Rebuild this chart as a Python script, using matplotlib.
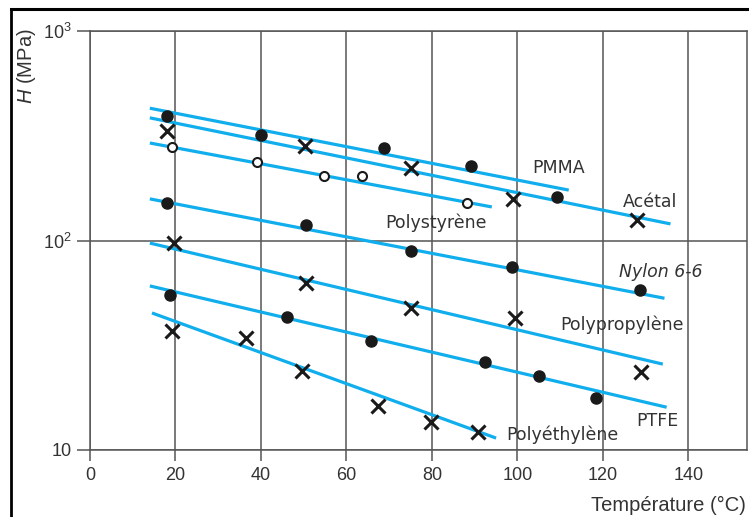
import matplotlib
matplotlib.use('Agg')
import matplotlib.pyplot as plt
from matplotlib.lines import Line2D
from matplotlib.ticker import NullLocator

plt.rcParams['font.family'] = ['Liberation Sans', 'DejaVu Sans']
plt.rcParams['mathtext.fontset'] = 'custom'
plt.rcParams['mathtext.rm'] = 'Liberation Sans'
plt.rcParams['mathtext.it'] = 'Liberation Sans:italic'

# measured points (temperature in C, hardness in MPa)
pmma_T = [18.0, 40.1, 68.8, 89.1, 109.2]
pmma_H = [393, 319, 276, 227, 161]
acetal_T = [18.0, 50.4, 75.1, 98.9, 127.9]
acetal_H = [333, 282, 222, 158, 125]
ps_T = [19.1, 39.0, 54.8, 63.7, 88.2]
ps_H = [279, 237, 203, 203, 151]
nylon_T = [18.0, 50.6, 75.1, 98.7, 128.6]
nylon_H = [151, 118.6, 89.2, 74.7, 58.0]
pp_T = [19.6, 50.6, 75.1, 99.4, 129.0]
pp_H = [97.3, 62.7, 47.6, 42.7, 23.5]
ptfe_T = [18.7, 46.0, 65.8, 92.4, 105.0, 118.3]
ptfe_H = [55.0, 43.2, 33.1, 26.3, 22.5, 17.7]
pe_T = [19.1, 36.4, 49.5, 67.4, 79.8, 90.8]
pe_H = [37.0, 34.2, 23.8, 16.2, 13.6, 12.2]

# fitted trend lines: (T start, T end), (H start, H end)
pmma_fit_T, pmma_fit_H = [14, 112], [428, 174]
acetal_fit_T, acetal_fit_H = [14, 135.8], [385, 120]
ps_fit_T, ps_fit_H = [14, 94], [292, 144.6]
nylon_fit_T, nylon_fit_H = [14, 134.4], [158, 53]
pp_fit_T, pp_fit_H = [14, 134], [97.2, 25.7]
ptfe_fit_T, ptfe_fit_H = [14, 134.9], [60.7, 16.0]
pe_fit_T, pe_fit_H = [14.5, 95], [45.1, 11.4]

# labels: text, T, H
label_text = ['PMMA', 'Acétal', 'Polystyrène', 'Nylon 6-6', 'Polypropylène', 'PTFE', 'Polyéthylène']
label_T = [109.7, 131.1, 81.0, 133.5, 124.4, 132.8, 110.4]
label_H = [222, 153, 122, 70.8, 39.5, 13.8, 11.8]

x_ticks = [0, 20, 40, 60, 80, 100, 120, 140]
y_ticks = [10, 100, 1000]
y_ticklabels = ['10', r'$\mathregular{10^2}$', r'$\mathregular{10^3}$']

blue = '#10aeec'
grey = '#555555'

fig = plt.figure(figsize=(7.49, 5.17), dpi=100)
ax = fig.add_axes([90/749, 1-450/517, 657/749, 419/517])
ax.set_yscale('log')
ax.set_xlim(0, 153.7)
ax.set_ylim(10, 1000)
ax.set_xticks(x_ticks)
ax.set_yticks(y_ticks)
ax.set_yticklabels(y_ticklabels)
ax.yaxis.set_minor_locator(NullLocator())
ax.grid(True, color=grey, lw=1.1, zorder=0)
ax.set_axisbelow(True)
for s in ax.spines.values():
    s.set_color(grey)
    s.set_linewidth(1.1)
ax.tick_params(axis='y', length=9.5, width=1.1, color=grey, pad=3.5, labelsize=13, labelcolor='#333333')
ax.tick_params(axis='x', length=8, width=1.1, color=grey, pad=4.5, labelsize=13, labelcolor='#333333')

for ft, fh in [(pmma_fit_T, pmma_fit_H), (acetal_fit_T, acetal_fit_H), (ps_fit_T, ps_fit_H),
               (nylon_fit_T, nylon_fit_H), (pp_fit_T, pp_fit_H), (ptfe_fit_T, ptfe_fit_H),
               (pe_fit_T, pe_fit_H)]:
    ax.plot(ft, fh, color=blue, lw=2.3, zorder=2, solid_capstyle='butt')

dot = dict(ls='none', marker='o', ms=8, color='#1a1a1a', zorder=3)
cross = dict(ls='none', marker='x', ms=9.5, mew=2.2, color='#1a1a1a', zorder=3)
ax.plot(pmma_T, pmma_H, **dot)
ax.plot(nylon_T, nylon_H, **dot)
ax.plot(ptfe_T, ptfe_H, **dot)
ax.plot(acetal_T, acetal_H, **cross)
ax.plot(pp_T, pp_H, **cross)
ax.plot(pe_T, pe_H, **cross)
ax.plot(ps_T, ps_H, ls='none', marker='o', ms=6.5, mfc='white', mec='#1a1a1a', mew=1.5, zorder=3)

for t, x, y in zip(label_text, label_T, label_H):
    ax.text(x, y, t, fontsize=12.5, color='#333333', ha='center', va='center', family='DejaVu Sans',
            style='italic' if t.startswith('Nylon') else 'normal', zorder=4)

fig.text(746/749, 1-505/517, 'Température (°C)', fontsize=14.5, color='#333333', ha='right', va='center')
fig.text(26/749, 1-66/517, '$H$ (MPa)', fontsize=14.5, color='#333333', ha='center', va='center', rotation=90)

# black frame on left and top of the picture
fig.add_artist(Line2D([11/749, 11/749], [0, 1-8.5/517], transform=fig.transFigure, color='black', lw=2.0))
fig.add_artist(Line2D([11/749, 1], [1-8.5/517, 1-8.5/517], transform=fig.transFigure, color='black', lw=2.2))

fig.savefig('out.png', dpi=100)
